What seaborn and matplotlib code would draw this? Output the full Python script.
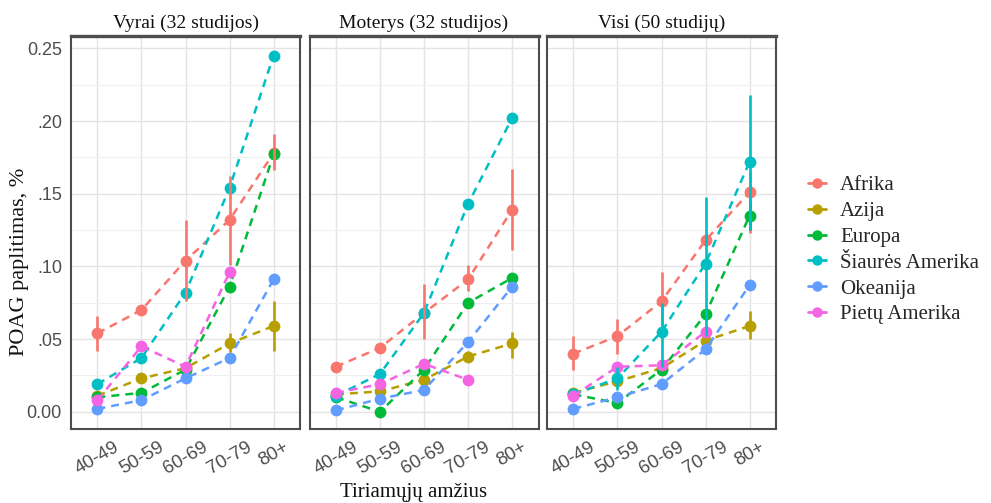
import numpy as np
import pandas as pd
import matplotlib
matplotlib.use("Agg")
import matplotlib.pyplot as plt
from matplotlib.lines import Line2D
from matplotlib.ticker import MultipleLocator
from matplotlib.transforms import ScaledTranslation
import seaborn as sns

# ---- data -------------------------------------------------------------
ages = ["40-49", "50-59", "60-69", "70-79", "80+"]
regions = ["Afrika", "Azija", "Europa", "Šiaurės Amerika", "Okeanija", "Pietų Amerika"]
colors = ["#F8766D", "#B79F00", "#00BA38", "#00BFC4", "#619CFF", "#F564E3"]
panel_titles = ["Vyrai (32 studijos)", "Moterys (32 studijos)", "Visi (50 studijų)"]

nan = np.nan

# Vyrai
men_afrika = [0.054, 0.070, 0.104, 0.132, 0.178]
men_azija = [0.011, 0.023, 0.030, 0.047, 0.059]
men_europa = [0.010, 0.013, 0.029, 0.086, 0.177]
men_siaures = [0.019, 0.037, 0.082, 0.154, 0.245]
men_okeanija = [0.002, 0.008, 0.023, 0.037, 0.091]
men_pietu = [0.008, 0.045, 0.031, 0.096, nan]

men_afrika_lo = [0.042, nan, 0.076, 0.101, 0.166]
men_afrika_hi = [0.066, nan, 0.132, 0.162, 0.191]
men_azija_lo = [nan, nan, nan, 0.041, 0.042]
men_azija_hi = [nan, nan, nan, 0.054, 0.076]

# Moterys
women_afrika = [0.031, 0.044, 0.068, 0.091, 0.139]
women_azija = [0.012, 0.014, 0.022, 0.038, 0.047]
women_europa = [0.010, 0.000, 0.029, 0.075, 0.092]
women_siaures = [0.011, 0.026, 0.068, 0.143, 0.202]
women_okeanija = [0.001, 0.009, 0.015, 0.048, 0.086]
women_pietu = [0.013, 0.019, 0.033, 0.022, nan]

women_afrika_lo = [nan, nan, 0.050, 0.083, 0.111]
women_afrika_hi = [nan, nan, 0.088, 0.101, 0.167]
women_azija_lo = [nan, nan, nan, 0.034, 0.037]
women_azija_hi = [nan, nan, nan, 0.042, 0.055]

# Visi
all_afrika = [0.040, 0.052, 0.076, 0.118, 0.151]
all_azija = [0.013, 0.021, 0.030, 0.049, 0.059]
all_europa = [0.012, 0.006, 0.029, 0.067, 0.135]
all_siaures = [0.012, 0.023, 0.055, 0.102, 0.172]
all_okeanija = [0.002, 0.010, 0.019, 0.043, 0.087]
all_pietu = [0.011, 0.031, 0.032, 0.055, nan]

all_afrika_lo = [0.029, 0.040, 0.056, nan, 0.123]
all_afrika_hi = [0.052, 0.064, 0.096, nan, 0.165]
all_azija_lo = [nan, nan, nan, nan, 0.050]
all_azija_hi = [nan, nan, nan, nan, 0.069]
all_europa_lo = [nan, nan, nan, nan, 0.125]
all_europa_hi = [nan, nan, nan, nan, 0.145]
all_siaures_lo = [nan, 0.015, 0.031, 0.052, 0.125]
all_siaures_hi = [nan, 0.031, 0.075, 0.148, 0.218]

panels = [
    {
        "values": [men_afrika, men_azija, men_europa, men_siaures, men_okeanija, men_pietu],
        "errors": {"Afrika": (men_afrika_lo, men_afrika_hi),
                   "Azija": (men_azija_lo, men_azija_hi)},
    },
    {
        "values": [women_afrika, women_azija, women_europa, women_siaures, women_okeanija, women_pietu],
        "errors": {"Afrika": (women_afrika_lo, women_afrika_hi),
                   "Azija": (women_azija_lo, women_azija_hi)},
    },
    {
        "values": [all_afrika, all_azija, all_europa, all_siaures, all_okeanija, all_pietu],
        "errors": {"Afrika": (all_afrika_lo, all_afrika_hi),
                   "Azija": (all_azija_lo, all_azija_hi),
                   "Europa": (all_europa_lo, all_europa_hi),
                   "Šiaurės Amerika": (all_siaures_lo, all_siaures_hi)},
    },
]

# ---- style ------------------------------------------------------------
sns.set_style("white")
plt.rcParams["font.family"] = ["Liberation Sans", "DejaVu Sans"]
plt.rcParams["lines.dashed_pattern"] = [3.2, 2.4]
SERIF = ["Liberation Serif", "DejaVu Serif"]
palette = dict(zip(regions, colors))
border = "#4D4D4D"
grid_major = "#E4E4E4"
grid_minor = "#F0F0F0"

fig = plt.figure(figsize=(9.91, 5.03), dpi=100)
W, H = 991, 503
top_px, bot_px = 36, 428.5
lefts = [71, 309.5, 547]
width_px = 229
shift_left = ScaledTranslation(-6 / 100, 0, fig.dpi_scale_trans)

axes = []
for i, left in enumerate(lefts):
    ax = fig.add_axes([left / W, 1 - bot_px / H, width_px / W, (bot_px - top_px) / H])
    axes.append(ax)
    spec = panels[i]

    rows = []
    for reg, vals in zip(regions, spec["values"]):
        for k, v in enumerate(vals):
            rows.append({"region": reg, "pos": k, "val": v})
    df = pd.DataFrame(rows).dropna()

    sns.lineplot(data=df, x="pos", y="val", hue="region", hue_order=regions,
                 palette=palette, linestyle="--", linewidth=1.8,
                 marker="o", markersize=8.5, markeredgewidth=0,
                 legend=False, ax=ax, zorder=3)

    for reg, (lo, hi) in spec["errors"].items():
        lo = np.asarray(lo, float)
        hi = np.asarray(hi, float)
        pos = np.arange(len(ages))
        ok = ~np.isnan(lo)
        ax.vlines(pos[ok], lo[ok], hi[ok], colors=palette[reg], linewidth=1.9, zorder=4)

    ax.set_xlim(-0.6, 4.6)
    ax.set_ylim(-0.0115, 0.2585)
    ax.set_xticks(range(len(ages)))
    ax.set_xticklabels(ages, rotation=30, ha="center", color="#4D4D4D", fontsize=13.5)
    for lab in ax.get_xticklabels():
        lab.set_transform(lab.get_transform() + shift_left)
    ax.yaxis.set_major_locator(MultipleLocator(0.05))
    ax.yaxis.set_minor_locator(MultipleLocator(0.025))
    ax.grid(True, which="major", color=grid_major, linewidth=1.0, zorder=0)
    ax.grid(True, which="minor", axis="y", color=grid_minor, linewidth=0.8, zorder=0)
    ax.set_axisbelow(True)
    for sp in ax.spines.values():
        sp.set_color(border)
        sp.set_linewidth(1.5)
    ax.spines["top"].set_linewidth(2.4)
    ax.tick_params(axis="x", direction="out", length=4.5, width=1, color=border, pad=3)
    ax.set_xlabel("")
    ax.set_ylabel("")
    if i == 0:
        ax.set_yticks([0, 0.05, 0.10, 0.15, 0.20, 0.25])
        ax.set_yticklabels(["0.00", ".05", ".10", ".15", ".20", "0.25"],
                           color="#4D4D4D", fontsize=13)
        ax.tick_params(axis="y", direction="out", length=4.5, width=1, color=border, pad=2)
    else:
        ax.tick_params(axis="y", left=False, labelleft=False)
    ax.tick_params(axis="y", which="minor", left=False)
    ax.set_title(panel_titles[i], family=SERIF, fontsize=14, color="#111111", pad=6)

fig.text(20 / W, 1 - 262 / H, "POAG paplitimas, %", rotation=90, family=SERIF,
         fontsize=16, ha="center", va="center", color="#111111")
fig.text(414 / W, 1 - 493 / H, "Tiriamųjų amžius", family=SERIF,
         fontsize=15, ha="center", va="center", color="#111111")

handles = [Line2D([0], [0], color=c, lw=2, marker="o", markersize=7.5, markeredgewidth=0)
           for c in colors]
fig.legend(handles, regions, loc="center left", bbox_to_anchor=(808 / W, 1 - 250 / H),
           frameon=False, prop={"family": SERIF, "size": 15}, handlelength=0.85,
           handletextpad=0.7, labelspacing=0.3, borderaxespad=0, borderpad=0)

fig.savefig("out.png", dpi=100)
